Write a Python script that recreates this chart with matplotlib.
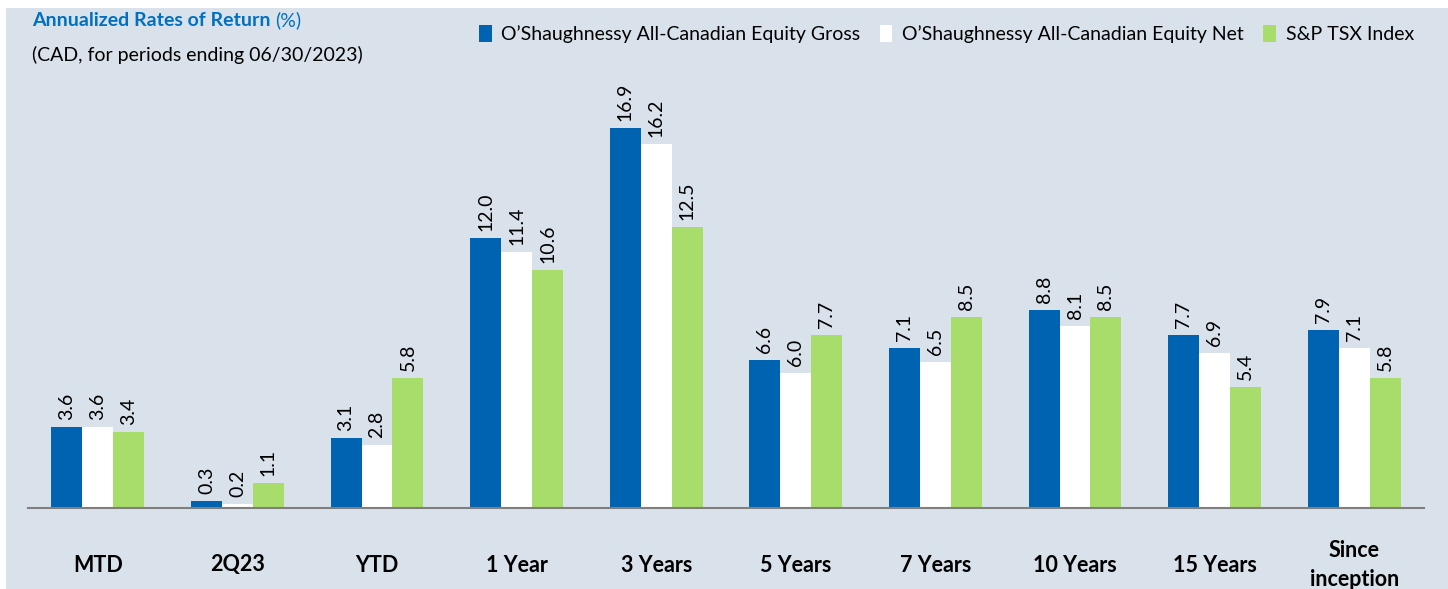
import matplotlib.pyplot as plt
import numpy as np
from matplotlib.patches import Rectangle

periods = ['MTD', '2Q23', 'YTD', '1 Year', '3 Years', '5 Years', '7 Years',
           '10 Years', '15 Years', 'Since\ninception']
gross = [3.6, 0.3, 3.1, 12.0, 16.9, 6.6, 7.1, 8.8, 7.7, 7.9]
net = [3.6, 0.2, 2.8, 11.4, 16.2, 6.0, 6.5, 8.1, 6.9, 7.1]
tsx = [3.4, 1.1, 5.8, 10.6, 12.5, 7.7, 8.5, 8.5, 5.4, 5.8]
series_names = ["O\u2019Shaughnessy All-Canadian Equity Gross",
                "O\u2019Shaughnessy All-Canadian Equity Net",
                "S&P TSX Index"]

plt.rcParams['font.family'] = ['Lato', 'DejaVu Sans']

bg = '#D9E2EA'
colors = ['#0063B1', '#FFFFFF', '#A8DC6B']

W, H = 14.48, 5.89
fig = plt.figure(figsize=(W, H), dpi=100, facecolor='white')
fig.patches.append(Rectangle((6 / 1448, 0), 1, 1 - 8 / 589, transform=fig.transFigure,
                             facecolor=bg, edgecolor='none', zorder=-10))

ax = fig.add_axes([28 / 1448, (589 - 508) / 589, (1424 - 28) / 1448, 428 / 589])
ax.set_facecolor('none')

x = np.arange(len(periods))
bw = 0.222
for i, (vals, c) in enumerate(zip([gross, net, tsx], colors)):
    pos = x + (i - 1) * bw
    ax.bar(pos, vals, bw, color=c, label=series_names[i], zorder=2)
    for p, v in zip(pos, vals):
        ax.annotate(f'{v:.1f}', (p, v), xytext=(0, 5), textcoords='offset points',
                    rotation=90, ha='center', va='bottom', fontsize=14, color='black')

ax.set_xlim(-0.5, len(periods) - 0.5)
ax.set_ylim(0, 428 / 22.5)
for s in ['top', 'right', 'left']:
    ax.spines[s].set_visible(False)
ax.spines['bottom'].set_color('#7F7F7F')
ax.spines['bottom'].set_linewidth(1.5)
ax.set_yticks([])
ax.set_xticks([])

for xi, lab in zip(x, periods):
    ax.text(xi, -57 / 428, lab, transform=ax.get_xaxis_transform(), ha='center',
            va='center', fontsize=15.5, fontweight='bold', linespacing=1.45)

t1 = fig.text(32 / 1448, 1 - 20 / 589, 'Annualized Rates of Return', color='#0070C0',
              fontsize=14, fontweight='bold', va='center', ha='left')
fig.text(32 / 1448, 1 - 55 / 589, '(CAD, for periods ending 06/30/2023)',
         fontsize=14, va='center', ha='left')
fig.canvas.draw()
bb = t1.get_window_extent()
fig.text((bb.x1 + 5) / 1448, 1 - 20 / 589, '(%)', color='#0070C0',
         fontsize=14, va='center', ha='left')

handles, labels = ax.get_legend_handles_labels()
fig.legend(handles, labels, loc='center right', bbox_to_anchor=(1414 / 1448, 1 - 34 / 589),
           ncol=3, frameon=False, fontsize=14, handlelength=0.65, handleheight=1.0,
           handletextpad=0.5, columnspacing=1.0, borderaxespad=0, borderpad=0)

fig.savefig('out.png', dpi=100, facecolor='white')
